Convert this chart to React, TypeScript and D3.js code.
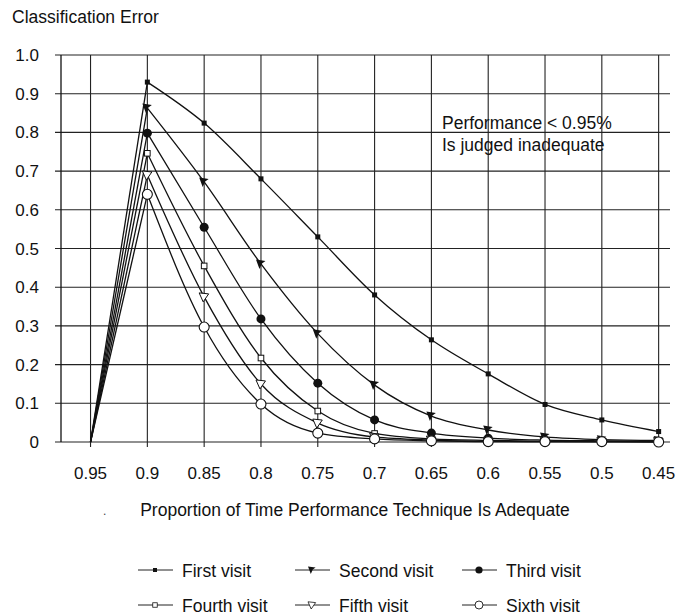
import React, { useRef, useEffect } from 'react';
import * as d3 from 'd3';

const proportions = [0.95, 0.9, 0.85, 0.8, 0.75, 0.7, 0.65, 0.6, 0.55, 0.5, 0.45];
const tickLabels = ['0.95', '0.9', '0.85', '0.8', '0.75', '0.7', '0.65', '0.6', '0.55', '0.5', '0.45'];
const yTicks = [0, 0.1, 0.2, 0.3, 0.4, 0.5, 0.6, 0.7, 0.8, 0.9, 1.0];
const yTickLabels = ['0', '0.1', '0.2', '0.3', '0.4', '0.5', '0.6', '0.7', '0.8', '0.9', '1.0'];

const firstVisit = [0, 0.93, 0.824, 0.68, 0.53, 0.38, 0.264, 0.176, 0.097, 0.057, 0.027];
const secondVisit = [0, 0.863, 0.672, 0.46, 0.28, 0.147, 0.067, 0.031, 0.013, 0.006, 0.004];
const thirdVisit = [0, 0.798, 0.555, 0.318, 0.152, 0.057, 0.023, 0.01, 0.005, 0.003, 0.002];
const fourthVisit = [0, 0.746, 0.455, 0.217, 0.08, 0.022, 0.008, 0.004, 0.002, 0.001, 0.001];
const fifthVisit = [0, 0.69, 0.375, 0.15, 0.049, 0.013, 0.005, 0.002, 0.001, 0.001, 0.001];
const sixthVisit = [0, 0.64, 0.297, 0.098, 0.023, 0.008, 0.003, 0.001, 0.001, 0.001, 0];

const seriesNames = ['First visit', 'Second visit', 'Third visit', 'Fourth visit', 'Fifth visit', 'Sixth visit'];
const seriesValues = [firstVisit, secondVisit, thirdVisit, fourthVisit, fifthVisit, sixthVisit];

const FONT = '"Liberation Sans", Arial, Helvetica, sans-serif';

// draws one marker shape centred at 0,0 into g
function drawMarker(g: d3.Selection<SVGGElement, unknown, null, undefined>, idx: number) {
  switch (idx) {
    case 0:
      g.append('rect').attr('x', -2.5).attr('y', -2.5).attr('width', 5).attr('height', 5).attr('fill', '#111');
      break;
    case 1:
      g.append('path').attr('d', 'M-5,-4.5 L4.5,-3 L1,-0.5 L-1.5,5 Z').attr('fill', '#111');
      break;
    case 2:
      g.append('circle').attr('r', 4.5).attr('fill', '#111');
      break;
    case 3:
      g.append('rect').attr('x', -2.8).attr('y', -2.8).attr('width', 5.6).attr('height', 5.6)
        .attr('fill', '#fff').attr('stroke', '#111').attr('stroke-width', 1);
      break;
    case 4:
      g.append('path').attr('d', 'M-5,-4 L4.5,-3 L-1,5 Z')
        .attr('fill', '#fff').attr('stroke', '#111').attr('stroke-width', 1);
      break;
    default:
      g.append('circle').attr('r', 5).attr('fill', '#fff').attr('stroke', '#111').attr('stroke-width', 1.1);
  }
}

const App: React.FC = () => {
  const svgRef = useRef<SVGSVGElement | null>(null);

  useEffect(() => {
    const svg = d3.select(svgRef.current);
    svg.selectAll('*').remove();

    const x = d3.scaleLinear().domain([0.976, 0.44]).range([61, 670]);
    const y = d3.scaleLinear().domain([0, 1]).range([442, 55]);

    // horizontal grid
    svg.append('g')
      .selectAll('line')
      .data(yTicks)
      .enter()
      .append('line')
      .attr('x1', 55)
      .attr('x2', 670)
      .attr('y1', (d) => y(d))
      .attr('y2', (d) => y(d))
      .attr('stroke', '#222')
      .attr('stroke-width', 1.1);

    // vertical grid
    svg.append('g')
      .selectAll('line')
      .data(proportions)
      .enter()
      .append('line')
      .attr('x1', (d) => x(d))
      .attr('x2', (d) => x(d))
      .attr('y1', y(1))
      .attr('y2', 447)
      .attr('stroke', '#222')
      .attr('stroke-width', 1.1);

    svg.append('line')
      .attr('x1', 61).attr('x2', 61)
      .attr('y1', y(1)).attr('y2', y(0))
      .attr('stroke', '#111').attr('stroke-width', 1.3);

    svg.append('g')
      .selectAll('text')
      .data(yTicks)
      .enter()
      .append('text')
      .attr('x', 39)
      .attr('y', (d) => y(d) + 6)
      .attr('text-anchor', 'end')
      .style('font-family', FONT)
      .style('font-size', '17px')
      .attr('fill', '#111')
      .text((d, i) => yTickLabels[i]);

    svg.append('g')
      .selectAll('text')
      .data(proportions)
      .enter()
      .append('text')
      .attr('x', (d) => x(d))
      .attr('y', 479)
      .attr('text-anchor', 'middle')
      .style('font-family', FONT)
      .style('font-size', '17px')
      .attr('fill', '#111')
      .text((d, i) => tickLabels[i]);

    svg.append('text')
      .attr('x', 12).attr('y', 23)
      .style('font-family', FONT).style('font-size', '17.5px').attr('fill', '#111')
      .text('Classification Error');

    svg.append('text')
      .attr('x', 355).attr('y', 516)
      .attr('text-anchor', 'middle')
      .style('font-family', FONT).style('font-size', '17.5px').attr('fill', '#111')
      .text('Proportion of Time Performance Technique Is Adequate');

    svg.append('text')
      .attr('x', 103).attr('y', 515)
      .style('font-family', FONT).style('font-size', '12px').attr('fill', '#444')
      .text('.');

    const note = svg.append('text')
      .style('font-family', FONT).style('font-size', '17.5px').attr('fill', '#111');
    note.append('tspan').attr('x', 442).attr('y', 129).text('Performance < 0.95%');
    note.append('tspan').attr('x', 442).attr('y', 151).text('Is judged inadequate');

    const straight = d3.line<[number, number]>().x((p) => x(p[0])).y((p) => y(p[1]));
    const smooth = d3.line<[number, number]>()
      .curve(d3.curveMonotoneX)
      .x((p) => x(p[0]))
      .y((p) => y(p[1]));

    seriesValues.forEach((vals) => {
      const pts: [number, number][] = proportions.map((p, i) => [p, vals[i]]);
      svg.append('path')
        .attr('d', straight(pts.slice(0, 2)))
        .attr('fill', 'none').attr('stroke', '#111').attr('stroke-width', 1.3);
      svg.append('path')
        .attr('d', smooth(pts.slice(1)))
        .attr('fill', 'none').attr('stroke', '#111').attr('stroke-width', 1.3);
    });

    seriesValues.forEach((vals, s) => {
      proportions.forEach((p, i) => {
        if (i === 0) return;
        const g = svg.append('g').attr('transform', `translate(${x(p)},${y(vals[i])})`);
        drawMarker(g, s);
      });
    });

    // legend
    const legendCols = [138, 295, 462];
    const legendRows = [570, 605];
    seriesNames.forEach((name, i) => {
      const cx = legendCols[i % 3];
      const cy = legendRows[Math.floor(i / 3)];
      svg.append('line')
        .attr('x1', cx).attr('x2', cx + 35)
        .attr('y1', cy).attr('y2', cy)
        .attr('stroke', '#222').attr('stroke-width', 1);
      const g = svg.append('g').attr('transform', `translate(${cx + 17},${cy}) scale(0.8)`);
      drawMarker(g, i);
      svg.append('text')
        .attr('x', cx + 44).attr('y', cy + 6.5)
        .style('font-family', FONT).style('font-size', '17.5px').attr('fill', '#111')
        .text(name);
    });
  }, []);

  return (
    <svg
      ref={svgRef}
      width={685}
      height={616}
      style={{ position: 'absolute', left: 0, top: 0, background: '#fff' }}
    />
  );
};

export default App;
